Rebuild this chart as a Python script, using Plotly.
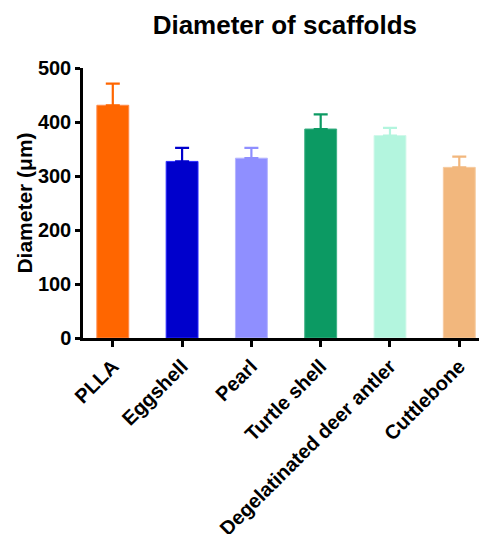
import plotly.graph_objects as go

categories = ["PLLA", "Eggshell", "Pearl", "Turtle shell", "Degelatinated deer antler", "Cuttlebone"]
means = [431, 327, 333, 387, 375, 316]
errors = [40, 25, 19, 27, 14, 20]
colors = ["#FF6600", "#0000CC", "#8F8FFF", "#0C9A63", "#B3F5DE", "#F2B77D"]
edge_colors = ["#FF8A4A", "#2B2BFF", "#B4B4FF", "#3DB085", "#D0F8EA", "#F6CBA0"]

fig = go.Figure()
for i, c in enumerate(categories):
    fig.add_trace(go.Bar(
        x=[i], y=[means[i]],
        width=0.46,
        marker=dict(color=colors[i], line=dict(color=edge_colors[i], width=1)),
        error_y=dict(type="data", symmetric=False, array=[errors[i]], arrayminus=[0],
                     color=colors[i], thickness=2.2, width=7),
        showlegend=False,
    ))

fig.update_layout(
    width=479, height=526,
    margin=dict(l=75, r=0, t=60, b=196),
    plot_bgcolor="white", paper_bgcolor="white",
    font=dict(family="Liberation Sans, Arial, sans-serif", color="black", size=20, weight=700),
    title=dict(text="Diameter of scaffolds", x=0.578, xanchor="center", y=0.968, yanchor="middle",
               font=dict(size=26, weight=700, color="black")),
    xaxis=dict(
        tickmode="array", tickvals=list(range(len(categories))), ticktext=categories,
        range=[-0.43, 5.4], tickangle=-45, ticks="outside", ticklen=6, tickwidth=2.5,
        tickcolor="black", showline=True, linewidth=2.5, linecolor="black",
        showgrid=False, zeroline=False, automargin=False,
        tickfont=dict(size=20, weight=700),
    ),
    yaxis=dict(
        range=[0, 500], tickvals=[0, 100, 200, 300, 400, 500], ticks="outside", ticklen=5,
        tickwidth=2.5, tickcolor="black", showline=True, linewidth=2.5, linecolor="black",
        showgrid=False, zeroline=False, automargin=False,
        tickfont=dict(size=20, weight=700),
        title=dict(text="Diameter (μm)", font=dict(size=21, weight=700), standoff=0),
    ),
    bargap=0.5,
)

fig.write_html("out.html")
